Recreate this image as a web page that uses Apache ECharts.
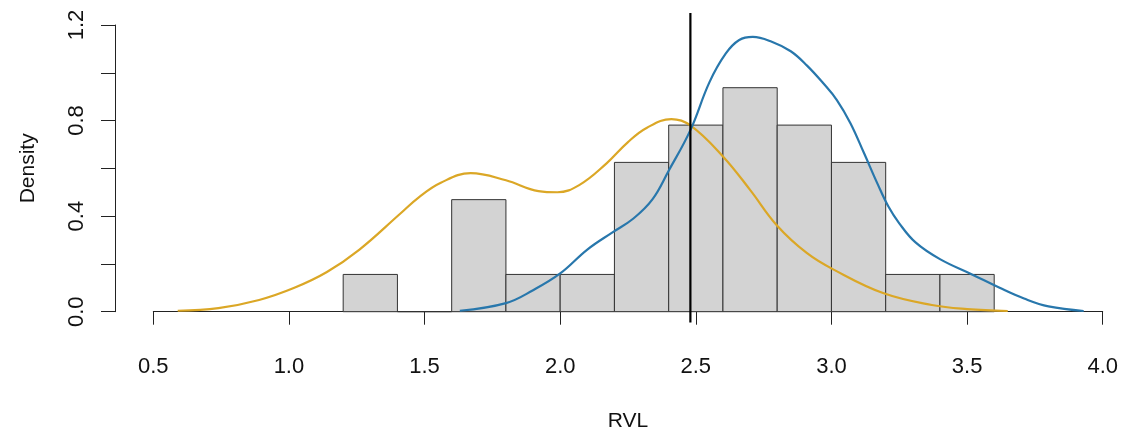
<!DOCTYPE html>
<html>
<head>
<meta charset="utf-8">
<script src="https://cdn.jsdelivr.net/npm/echarts@6/dist/echarts.min.js"></script>
<style>
  html, body { margin: 0; padding: 0; background: #fff; }
  #chart { width: 1123px; height: 432px; }
</style>
</head>
<body>
<div id="chart"></div>
<script>
// histogram of RVL (density scale)
const binEdges = [1.2, 1.4, 1.6, 1.8, 2.0, 2.2, 2.4, 2.6, 2.8, 3.0, 3.2, 3.4, 3.6];
const binDensity = [0.156, 0, 0.469, 0.156, 0.156, 0.625, 0.781, 0.9375, 0.781, 0.625, 0.156, 0.156];

// density curve, yellow
const yellowX = [0.59, 0.74, 0.89, 1.02, 1.14, 1.26, 1.41, 1.48, 1.56, 1.67, 1.80, 1.92, 1.99, 2.07, 2.17, 2.25, 2.32, 2.41, 2.48, 2.60, 2.70, 2.80, 2.91, 3.01, 3.19, 3.37, 3.50, 3.65];
const yellowY = [0.004, 0.015, 0.049, 0.10, 0.166, 0.26, 0.41, 0.48, 0.54, 0.58, 0.55, 0.505, 0.50, 0.53, 0.62, 0.71, 0.77, 0.806, 0.78, 0.65, 0.51, 0.36, 0.245, 0.175, 0.078, 0.028, 0.011, 0.003];

// density curve, blue
const blueX = [1.63, 1.80, 1.90, 2.00, 2.10, 2.19, 2.27, 2.34, 2.40, 2.48, 2.55, 2.61, 2.66, 2.71, 2.78, 2.85, 2.91, 2.97, 3.02, 3.07, 3.12, 3.17, 3.21, 3.25, 3.31, 3.40, 3.52, 3.62, 3.71, 3.80, 3.93];
const blueY = [0.004, 0.036, 0.09, 0.16, 0.26, 0.33, 0.39, 0.47, 0.59, 0.76, 0.96, 1.08, 1.137, 1.15, 1.13, 1.09, 1.03, 0.956, 0.886, 0.789, 0.664, 0.535, 0.44, 0.37, 0.29, 0.22, 0.155, 0.10, 0.055, 0.022, 0.003];

// vertical reference line
const refX = 2.48;
const refSpan = [-0.045, 1.25];

const xTicks = { min: 0.5, max: 4.0, step: 0.5 };
const yTicks = { min: 0, max: 1.2, step: 0.2 };

const font = 'Liberation Sans, Arial, sans-serif';
const chart = echarts.init(document.getElementById('chart'));

const bins = binDensity.map((d, i) => [binEdges[i], binEdges[i + 1], d]);
const zip = (xs, ys) => xs.map((x, i) => [x, ys[i]]);

chart.setOption({
  animation: false,
  grid: { left: 153.3, right: 20.3, top: 25, bottom: 120.3, outerBoundsMode: 'none' },
  xAxis: {
    type: 'value',
    min: xTicks.min,
    max: xTicks.max,
    interval: xTicks.step,
    offset: 11,
    name: 'RVL',
    nameLocation: 'middle',
    nameGap: 88,
    nameTextStyle: { fontFamily: font, fontSize: 21, color: '#111' },
    axisLine: { lineStyle: { color: '#222', width: 1 } },
    axisTick: { length: 13, lineStyle: { color: '#222' } },
    axisLabel: {
      margin: 33,
      fontFamily: font,
      fontSize: 22,
      color: '#111',
      formatter: v => v.toFixed(1)
    },
    splitLine: { show: false }
  },
  yAxis: {
    type: 'value',
    min: yTicks.min,
    max: yTicks.max,
    interval: yTicks.step,
    offset: 38.3,
    name: 'Density',
    nameLocation: 'middle',
    nameRotate: 90,
    nameGap: 76,
    nameTextStyle: { fontFamily: font, fontSize: 21, color: '#111' },
    axisLine: { show: true, lineStyle: { color: '#222', width: 1 } },
    axisTick: { show: true, length: 14, lineStyle: { color: '#222' } },
    axisLabel: {
      rotate: 90,
      margin: 27,
      fontFamily: font,
      fontSize: 22,
      color: '#111',
      formatter: v => (Math.round(v * 10) % 4 === 0 ? v.toFixed(1) : '')
    },
    splitLine: { show: false }
  },
  series: [
    {
      type: 'custom',
      data: bins,
      renderItem(params, api) {
        const topLeft = api.coord([api.value(0), api.value(2)]);
        const bottomRight = api.coord([api.value(1), 0]);
        return {
          type: 'rect',
          shape: {
            x: topLeft[0],
            y: topLeft[1],
            width: bottomRight[0] - topLeft[0],
            height: bottomRight[1] - topLeft[1]
          },
          style: { fill: '#d3d3d3', stroke: '#333', lineWidth: 1 }
        };
      },
      z: 1
    },
    {
      type: 'line',
      data: zip(yellowX, yellowY),
      smooth: 0.4,
      showSymbol: false,
      lineStyle: { color: '#dba726', width: 2.2 },
      z: 3
    },
    {
      type: 'line',
      data: zip(blueX, blueY),
      smooth: 0.4,
      showSymbol: false,
      lineStyle: { color: '#2877ac', width: 2.2 },
      z: 3
    },
    {
      type: 'line',
      data: refSpan.map(y => [refX, y]),
      clip: false,
      showSymbol: false,
      lineStyle: { color: '#000', width: 2.2 },
      z: 4
    }
  ]
});
</script>
</body>
</html>
